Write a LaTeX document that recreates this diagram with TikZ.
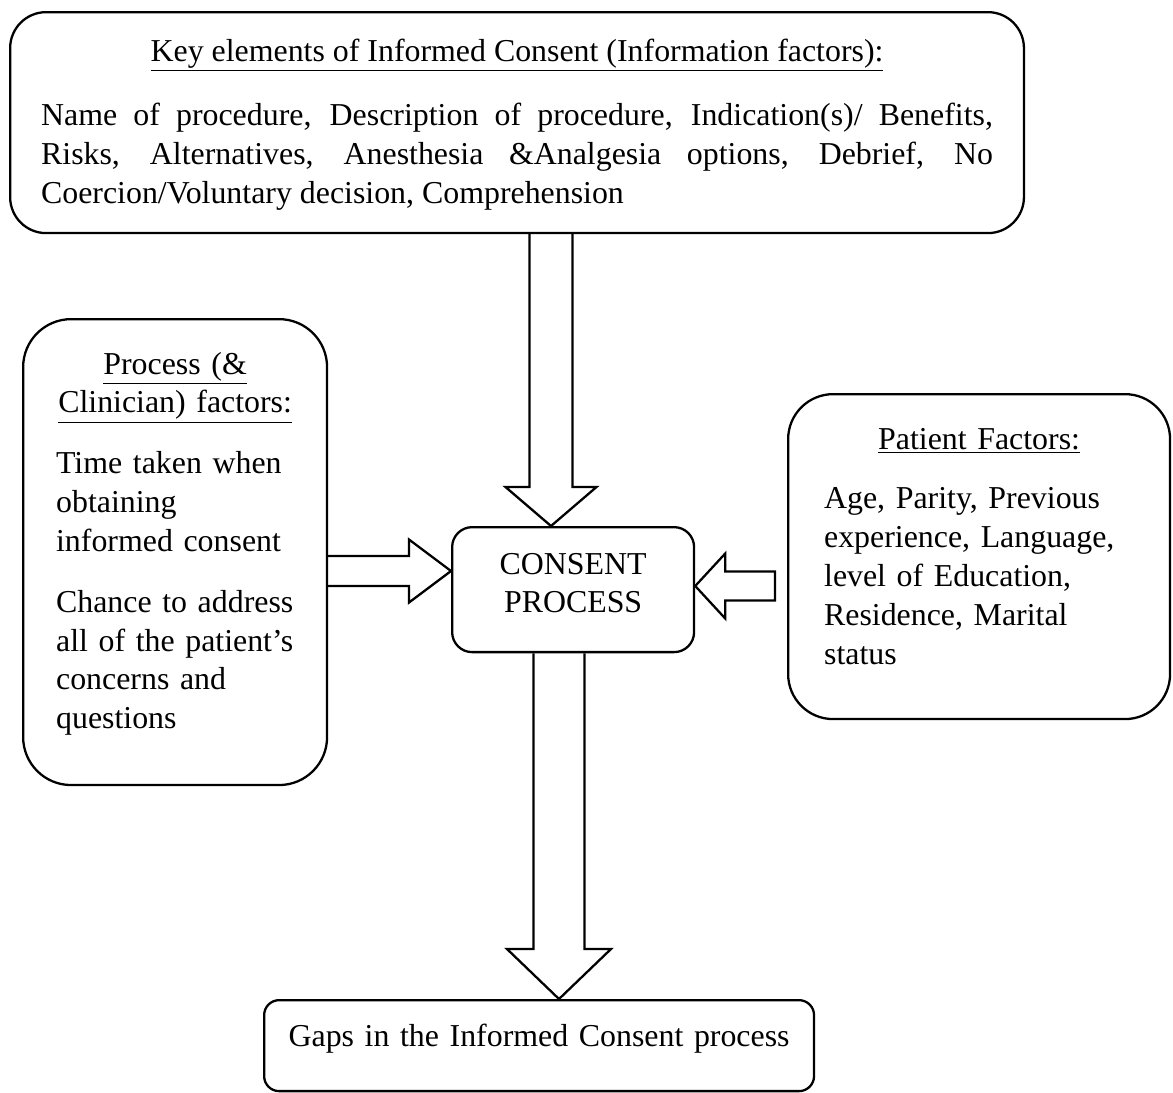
\documentclass[tikz,border=0pt]{standalone}
\usepackage{fontspec}
\setmainfont{Liberation Serif}
\usetikzlibrary{calc}

\tikzset{
  box/.style={draw, line width=1.3pt, anchor=north west, inner ysep=0pt,
    font=\fontsize{18.14pt}{22.11pt}\selectfont},
  fatarrow/.style={draw, line width=1.3pt, line join=miter},
}

\begin{document}
\begin{tikzpicture}[x=0.02cm, y=-0.02cm]
  \useasboundingbox (0,0) rectangle (1173,1092);

  % boxes
  \node[box, rounded corners=0.72cm, align=justify, text width=19.04cm, inner xsep=0.62cm,
        text height=0.98cm, text depth=3.44cm] (info) at (9,11)
    {\centerline{\underline{Key elements of Informed Consent (Information factors):}}\par
     \vspace{14.7pt}
     Name of procedure, Description of procedure, Indication(s)/ Benefits,\linebreak
     Risks, Alternatives, Anesthesia \&Analgesia options, Debrief, No\linebreak
     Coercion/Voluntary decision, Comprehension};

  \node[box, rounded corners=0.96cm, align=left, text width=4.76cm, inner xsep=0.66cm,
        text height=1.1cm, text depth=8.22cm] (process) at (22,318)
    {\centerline{\underline{Process (\&}}\par
     \centerline{\underline{Clinician) factors:}}\par
     \vspace{12.5pt}
     Time taken when\\ obtaining\\ informed consent\par
     \vspace{12.5pt}
     Chance to address\\ all of the patient’s\\ concerns and\\ questions};

  \node[box, rounded corners=0.9cm, align=left, text width=6.2cm, inner xsep=0.72cm,
        text height=1.1cm, text depth=5.4cm] (patient) at (787,393)
    {\centerline{\underline{Patient Factors:}}\par
     \vspace{11.9pt}
     Age, Parity, Previous\\ experience, Language,\\ level of Education,\\
     Residence, Marital\\ status};

  \node[box, rounded corners=0.4cm, align=center, text width=4.44cm, inner xsep=0.2cm,
        text height=0.94cm, text depth=1.56cm] (consent) at (451,526)
    {CONSENT\\ PROCESS};

  \node[box, rounded corners=0.3cm, align=center, text width=10.6cm, inner xsep=0.2cm,
        text height=0.92cm, text depth=0.9cm] (gaps) at (263,999)
    {Gaps in the Informed Consent process};

  % block arrows
  \coordinate (t1) at ($(consent.north west)+(100,0)$);
  \coordinate (s1) at (info.south -| t1);
  \draw[fatarrow] ($(s1)+(-21.5,0)$) -- ($(t1)+(-21.5,-39)$) -- ($(t1)+(-45.5,-39)$) -- (t1)
    -- ($(t1)+(45.5,-39)$) -- ($(t1)+(21.5,-39)$) -- ($(s1)+(21.5,0)$);

  \coordinate (t2) at ($(consent.north west)+(0,45)$);
  \coordinate (s2) at (process.east |- t2);
  \draw[fatarrow] ($(s2)+(0,-15)$) -- ($(t2)+(-42,-15)$) -- ($(t2)+(-42,-31.5)$) -- (t2)
    -- ($(t2)+(-42,31.5)$) -- ($(t2)+(-42,15)$) -- ($(s2)+(0,15)$);

  \coordinate (t3) at ($(consent.north east)+(0,60)$);
  \coordinate (s3) at ($(patient.west |- t3)+(-12,0)$);
  \draw[fatarrow] ($(s3)+(0,-14.5)$) -- ($(t3)+(30,-14.5)$) -- ($(t3)+(30,-32.5)$) -- (t3)
    -- ($(t3)+(30,32.5)$) -- ($(t3)+(30,14.5)$) -- ($(s3)+(0,14.5)$) -- cycle;

  \coordinate (t4) at ($(gaps.north west)+(296,0)$);
  \coordinate (s4) at (consent.south -| t4);
  \draw[fatarrow] ($(s4)+(-25.5,0)$) -- ($(t4)+(-25.5,-50)$) -- ($(t4)+(-52,-50)$) -- (t4)
    -- ($(t4)+(52,-50)$) -- ($(t4)+(25.5,-50)$) -- ($(s4)+(25.5,0)$);
\end{tikzpicture}
\end{document}
